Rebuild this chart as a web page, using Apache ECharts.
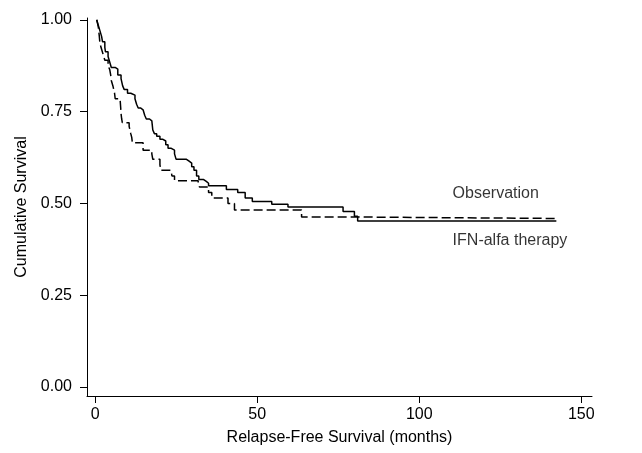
<!DOCTYPE html>
<html>
<head>
<meta charset="utf-8">
<script src="https://cdn.jsdelivr.net/npm/echarts@6/dist/echarts.min.js"></script>
<style>html,body{margin:0;padding:0;background:#fff}#c{width:642px;height:453px}</style>
</head>
<body>
<div id="c"></div>
<script>
// Solid curve (IFN-alfa therapy): event times (months) and survival after each step
const ifnTimes = [0.5, 1.0, 1.5, 2.0, 2.3, 3.0, 3.2, 4.0, 4.5, 5.0, 6.3, 7.0, 8.0, 8.5, 9.0, 10.0, 11.0, 12.3, 12.8, 13.3, 14.0, 14.8, 15.3, 15.8, 16.8, 17.5, 17.8, 18.3, 19.0, 20.0, 20.8, 21.8, 22.5, 23.5, 24.5, 25.0, 28.2, 29.0, 29.8, 30.5, 31.3, 32.0, 33.5, 34.3, 35.0, 40.5, 44.0, 46.3, 48.5, 54.5, 59.5, 76.5, 80.0, 81.0, 142.3];
const ifnSurv  = [1.0, 0.985, 0.97, 0.955, 0.94, 0.925, 0.913, 0.90, 0.885, 0.87, 0.866, 0.85, 0.84, 0.82, 0.81, 0.80, 0.795, 0.785, 0.77, 0.76, 0.755, 0.75, 0.74, 0.73, 0.725, 0.72, 0.70, 0.69, 0.683, 0.675, 0.67, 0.66, 0.65, 0.645, 0.635, 0.62, 0.615, 0.61, 0.60, 0.59, 0.575, 0.565, 0.56, 0.555, 0.548, 0.538, 0.53, 0.515, 0.505, 0.498, 0.49, 0.478, 0.465, 0.452, 0.452];

// Dashed curve (Observation)
const obsTimes = [0.5, 1.0, 1.3, 1.5, 2.0, 2.5, 3.0, 4.0, 4.5, 4.8, 5.0, 5.5, 6.0, 6.2, 7.7, 7.9, 8.0, 8.2, 8.4, 10.5, 11.0, 11.3, 11.5, 14.8, 17.5, 17.8, 20.0, 20.3, 23.4, 23.7, 24.5, 31.8, 32.2, 35.0, 36.0, 41.0, 43.0, 63.7, 81.0, 142.3];
const obsSurv  = [1.0, 0.98, 0.955, 0.935, 0.92, 0.905, 0.89, 0.875, 0.865, 0.85, 0.835, 0.82, 0.80, 0.785, 0.78, 0.76, 0.745, 0.73, 0.72, 0.71, 0.69, 0.68, 0.665, 0.645, 0.635, 0.62, 0.605, 0.59, 0.588, 0.575, 0.562, 0.553, 0.545, 0.53, 0.515, 0.50, 0.482, 0.463, 0.459, 0.459];

// Tick values
const xTicks = [0, 50, 100, 150];
const yTicks = [0, 0.25, 0.5, 0.75, 1.0];

// Curve labels
const labelNames = ['Observation', 'IFN-alfa therapy'];
const labelX = [110.3, 110.3];
const labelY = [0.526, 0.40];

const FONT = 'Liberation Sans, Arial, sans-serif';
const chart = echarts.init(document.getElementById('c'), null, {renderer: 'canvas'});

const zip = (a, b) => a.map((v, i) => [v, b[i]]);

chart.setOption({
  animation: false,
  backgroundColor: '#fff',
  grid: {left: 87, right: 50, top: 18, bottom: 57, containLabel: false},
  xAxis: {
    type: 'value', min: -2.5, max: 153.3,
    name: 'Relapse-Free Survival (months)', nameLocation: 'middle', nameGap: 34,
    nameTextStyle: {color: '#000', fontFamily: FONT, fontSize: 16},
    axisLine: {show: true, onZero: false, lineStyle: {color: '#000', width: 1}},
    axisTick: {show: true, length: 7, customValues: xTicks, lineStyle: {color: '#000'}},
    axisLabel: {show: true, customValues: xTicks, margin: 11, color: '#000', fontFamily: FONT, fontSize: 16},
    splitLine: {show: false}
  },
  yAxis: {
    type: 'value', min: -0.0245, max: 1.005,
    name: 'Cumulative Survival', nameLocation: 'middle', nameGap: 56, nameRotate: 90,
    nameTextStyle: {color: '#000', fontFamily: FONT, fontSize: 16},
    axisLine: {show: true, onZero: false, lineStyle: {color: '#000', width: 1}},
    axisTick: {show: true, length: 7, customValues: yTicks, lineStyle: {color: '#000'}},
    axisLabel: {show: true, customValues: yTicks, margin: 15, color: '#000', fontFamily: FONT, fontSize: 16,
      formatter: v => v.toFixed(2)},
    splitLine: {show: false}
  },
  series: [
    {
      name: 'IFN-alfa therapy', type: 'line', step: 'end', symbol: 'none',
      data: zip(ifnTimes, ifnSurv),
      lineStyle: {color: '#000', width: 1.5}
    },
    {
      name: 'Observation', type: 'line', step: 'end', symbol: 'none',
      data: zip(obsTimes, obsSurv),
      lineStyle: {color: '#000', width: 1.5, type: [9, 4]}
    },
    {
      type: 'scatter', symbolSize: 0, silent: true,
      data: labelNames.map((n, i) => ({name: n, value: [labelX[i], labelY[i]]})),
      label: {show: true, position: [0, 0], align: 'left', verticalAlign: 'middle',
        formatter: p => p.name, color: '#000', fontFamily: FONT, fontSize: 16}
    }
  ]
});
</script>
</body>
</html>
